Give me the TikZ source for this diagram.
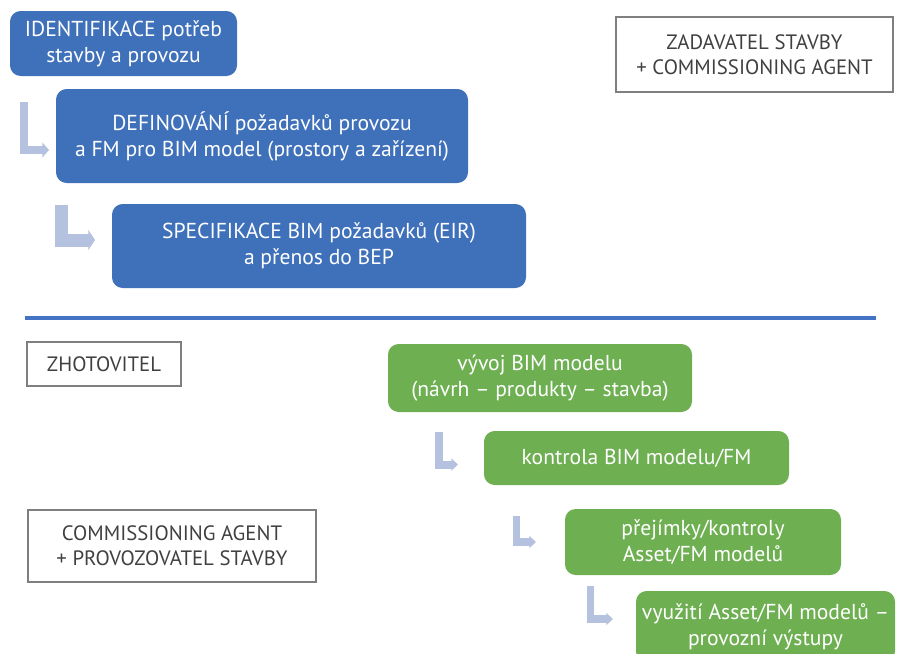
\documentclass[tikz,border=0pt]{standalone}
\usepackage{fontspec}
\setmainfont{PT Sans}
\usetikzlibrary{arrows.meta}
\definecolor{stageblue}{HTML}{3F70BA}
\definecolor{stagegreen}{HTML}{6EAF52}
\definecolor{bendarrow}{HTML}{B4C2E0}
\definecolor{rolegray}{HTML}{7F7F7F}
\definecolor{roletext}{HTML}{404040}
\definecolor{divider}{HTML}{4472C4}
\tikzset{
  stage/.style={rounded corners=8pt, inner sep=0pt, align=center, text=white,
    font=\fontsize{16.2}{19.5}\selectfont},
  bluestage/.style={stage, fill=stageblue},
  greenstage/.style={stage, fill=stagegreen},
  rolebox/.style={draw=rolegray, line width=0.8pt, inner sep=0pt, align=center,
    text=roletext, font=\fontsize{15.6}{19}\selectfont},
  bend/.style={draw=bendarrow, line cap=butt, line join=miter,
    -{Triangle[length=5pt, width=#1]}},
}
\begin{document}
\begin{tikzpicture}[x=0.75pt, y=-0.75pt]
\useasboundingbox (0,0) rectangle (912,653);
\begin{scope}
\clip (0,0) rectangle (912,653);

% client side: stage boxes
\node[bluestage, minimum width=227*0.75pt, minimum height=65*0.75pt] (ident) at (123.5,43.5)
  {IDENTIFIKACE potřeb\\stavby a provozu};
\node[bluestage, minimum width=412*0.75pt, minimum height=94*0.75pt] (defin) at (262,136)
  {DEFINOVÁNÍ požadavků provozu\\a FM pro BIM model (prostory a zařízení)};
\node[bluestage, minimum width=414*0.75pt, minimum height=84*0.75pt] (spec) at (319,246)
  {SPECIFIKACE BIM požadavků (EIR)\\a přenos do BEP};

% roles
\node[rolebox, minimum width=277*0.75pt, minimum height=75*0.75pt] (client) at (754.5,54.5)
  {ZADAVATEL STAVBY\\+ COMMISSIONING AGENT};
\node[rolebox, minimum width=154*0.75pt, minimum height=44*0.75pt] (contractor) at (104,364)
  {ZHOTOVITEL};
\node[rolebox, minimum width=288*0.75pt, minimum height=72*0.75pt] (operator) at (172,546)
  {COMMISSIONING AGENT\\+ PROVOZOVATEL STAVBY};

% divider between client and contractor
\coordinate (divL) at (25,318);
\coordinate (divR) at (876,318);
\draw[divider, line width=3pt] (divL) -- (divR);

% contractor side: stage boxes
\node[greenstage, minimum width=304*0.75pt, minimum height=68*0.75pt] (dev) at (540,378)
  {vývoj BIM modelu\\(návrh – produkty – stavba)};
\node[greenstage, minimum width=305*0.75pt, minimum height=54*0.75pt] (check) at (636.5,458)
  {kontrola BIM modelu/FM};
\node[greenstage, minimum width=276*0.75pt, minimum height=66*0.75pt] (accept) at (703,542)
  {přejímky/kontroly\\Asset/FM modelů};
\node[greenstage, minimum width=259*0.75pt, minimum height=71*0.75pt] (use) at (765.5,626.5)
  {využití Asset/FM modelů –\\provozní výstupy};

% bent arrows
\coordinate (a1s) at (24,102);   \coordinate (a1e) at (49,150);
\coordinate (a2s) at (61.5,205); \coordinate (a2e) at (95,240);
\coordinate (a3s) at (439,432);  \coordinate (a3e) at (458,464.5);
\coordinate (a4s) at (516.5,516);\coordinate (a4e) at (536,542);
\coordinate (a5s) at (590.5,586);\coordinate (a5e) at (613,619);
\draw[bend=11pt, line width=6pt]   (a1s) |- (a1e);
\draw[bend=15pt, line width=9.75pt] (a2s) |- (a2e);
\draw[bend=9pt, line width=6pt]   (a3s) |- (a3e);
\draw[bend=9pt, line width=5.5pt] (a4s) |- (a4e);
\draw[bend=9pt, line width=5.5pt] (a5s) |- (a5e);
\end{scope}
\end{tikzpicture}
\end{document}
